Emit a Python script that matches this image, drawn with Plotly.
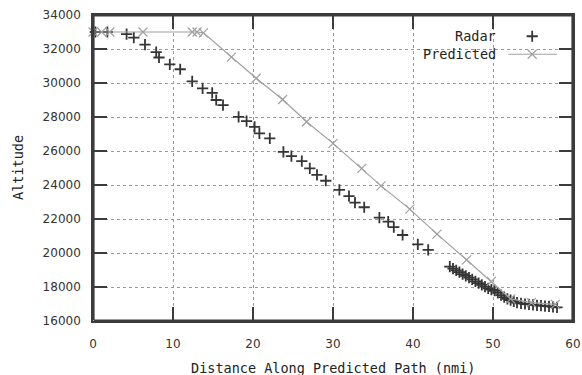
import plotly.graph_objects as go

# Radar track: distance along predicted path (nmi) vs altitude (ft)
radar_dist = [0.3, 1.8, 4.2, 5.1, 6.5, 7.9, 8.25, 9.6, 10.9, 12.4, 13.7, 14.9, 15.4, 16.25,
              18.2, 19.2, 20.2, 20.8, 22.1, 23.8, 24.8, 26.1, 27.1, 28.0, 29.1, 30.8,
              32.0, 32.75, 33.9, 35.8, 36.9, 37.6, 38.7, 40.6, 41.9,
              44.6, 45.0, 45.4, 45.8, 46.2, 46.6, 47.0, 47.4, 47.8, 48.2, 48.6, 49.0,
              49.4, 49.8, 50.2, 50.6, 51.0, 51.4, 51.8, 52.2, 52.6, 53.0, 53.5, 54.0,
              54.5, 55.0, 55.5, 56.0, 56.5, 57.0, 57.5, 58.0]
radar_alt = [33000, 33000, 32870, 32670, 32260, 31820, 31500, 31100, 30810, 30100, 29680,
             29420, 29000, 28700, 28010, 27760, 27420, 27040, 26740, 25950, 25700, 25410,
             24980, 24590, 24250, 23710, 23350, 22960, 22690, 22080, 21850, 21520, 21060,
             20510, 20180,
             19200, 19080, 18980, 18870, 18760, 18660, 18550, 18450, 18330, 18230, 18130,
             18020, 17920, 17850, 17780, 17650, 17520, 17400, 17300, 17230, 17150, 17080,
             17040, 17000, 16980, 16950, 16920, 16900, 16880, 16860, 16830, 16800]

# Predicted path
pred_dist = [0.0, 1.1, 2.1, 6.25, 12.4, 13.0, 13.8, 17.3, 20.4, 23.7, 26.7, 30.0, 33.6,
             36.0, 39.6, 43.0, 46.7, 49.8, 52.2, 54.8, 57.8]
pred_alt = [33000, 33000, 33000, 33000, 33000, 33000, 32950, 31520, 30280, 29030, 27720,
            26450, 24980, 23950, 22580, 21110, 19600, 18330, 17300, 17080, 16980]

x_ticks = [0, 10, 20, 30, 40, 50, 60]
y_ticks = [16000, 18000, 20000, 22000, 24000, 26000, 28000, 30000, 32000, 34000]

X_RANGE = [0, 60]
Y_RANGE = [16000, 34000]

RADAR_COLOR = "#353535"
PRED_COLOR = "#a0a0a0"
AXIS_COLOR = "#3c3c3c"
TEXT_COLOR = "#222222"
MONO = "DejaVu Sans Mono"

PLOT_W, PLOT_H = 480, 306
TICK_PX = 14
BORDER_W = 1.6

radar_marker = dict(symbol="cross-thin", size=8, color=RADAR_COLOR,
                    line=dict(width=1.8, color=RADAR_COLOR))
pred_marker = dict(symbol="x-thin", size=9, color=PRED_COLOR,
                   line=dict(width=1.2, color=PRED_COLOR))

x0, x1 = X_RANGE
y0, y1 = Y_RANGE
ux = (x1 - x0) / PLOT_W   # data units per pixel, x
uy = (y1 - y0) / PLOT_H   # data units per pixel, y

fig = go.Figure()

# Inward tick marks on all four sides, one short segment per trace
tick_style = dict(mode="lines", line=dict(color=AXIS_COLOR, width=2),
                  showlegend=False, hoverinfo="skip")
tick_dy = TICK_PX * uy
tick_dx = TICK_PX * ux
for v in x_ticks[1:-1]:
    fig.add_trace(go.Scatter(x=[v, v], y=[y0, y0 + tick_dy], **tick_style))
    fig.add_trace(go.Scatter(x=[v, v], y=[y1 - tick_dy, y1], **tick_style))
for v in y_ticks[1:-1]:
    fig.add_trace(go.Scatter(x=[x0, x0 + tick_dx], y=[v, v], **tick_style))
    fig.add_trace(go.Scatter(x=[x1 - tick_dx, x1], y=[v, v], **tick_style))

fig.add_trace(go.Scatter(
    x=radar_dist, y=radar_alt, mode="markers", name="Radar",
    marker=radar_marker, cliponaxis=False, showlegend=False,
))
fig.add_trace(go.Scatter(
    x=pred_dist, y=pred_alt, mode="lines+markers", name="Predicted",
    line=dict(color=PRED_COLOR, width=1.2), marker=pred_marker,
    cliponaxis=False, showlegend=False,
))

# Key in the top-right corner: label first, sample to its right
key_x_mark = 54.9
key_x_line = [51.9, 58.0]
key_y = [32750, 31690]
fig.add_trace(go.Scatter(
    x=[key_x_mark], y=[key_y[0]], mode="markers", marker=radar_marker,
    showlegend=False, hoverinfo="skip",
))
fig.add_trace(go.Scatter(
    x=key_x_line, y=[key_y[1], key_y[1]], mode="lines",
    line=dict(color=PRED_COLOR, width=1.2), showlegend=False, hoverinfo="skip",
))
fig.add_trace(go.Scatter(
    x=[key_x_mark], y=[key_y[1]], mode="markers", marker=pred_marker,
    showlegend=False, hoverinfo="skip",
))

# Plot border, inset by half its width so no side gets clipped
bx = BORDER_W / 2 * ux
by = BORDER_W / 2 * uy
fig.add_trace(go.Scatter(
    x=[x0 + bx, x1 - bx, x1 - bx, x0 + bx, x0 + bx],
    y=[y0 + by, y0 + by, y1 - by, y1 - by, y0 + by],
    mode="lines", line=dict(color=AXIS_COLOR, width=BORDER_W),
    showlegend=False, hoverinfo="skip",
))

axis_common = dict(
    showline=True, linecolor=AXIS_COLOR, linewidth=BORDER_W, mirror=True,
    ticks="outside", tickcolor="rgba(255,255,255,0)", tickwidth=1,
    showgrid=True, gridcolor="#9a9a9a", griddash="dot", gridwidth=1,
    zeroline=False, automargin=False,
    tickfont=dict(family="DejaVu Sans", size=12, color="#333333"),
)

mono_font = dict(family=MONO, size=13.5, color=TEXT_COLOR)

fig.update_layout(
    width=582, height=375,
    margin=dict(l=93, r=9, t=15, b=54),
    paper_bgcolor="white", plot_bgcolor="white",
    xaxis=dict(range=X_RANGE, tickvals=x_ticks, ticktext=[str(v) for v in x_ticks],
               ticklen=11, **axis_common),
    yaxis=dict(range=Y_RANGE, tickvals=y_ticks, ticktext=[str(v) for v in y_ticks],
               ticklen=8, **axis_common),
    annotations=[
        dict(x=0.5, y=0, xref="paper", yref="paper", yshift=-47,
             text="Distance Along Predicted Path (nmi)", showarrow=False,
             xanchor="center", yanchor="middle", font=mono_font),
        dict(x=0, y=0.5, xref="paper", yref="paper", xshift=-75,
             text="Altitude", textangle=-90, showarrow=False,
             xanchor="center", yanchor="middle", font=mono_font),
        dict(x=0.844, y=0.931, xref="paper", yref="paper", text="Radar",
             showarrow=False, xanchor="right", yanchor="middle", font=mono_font),
        dict(x=0.844, y=0.873, xref="paper", yref="paper", text="Predicted",
             showarrow=False, xanchor="right", yanchor="middle", font=mono_font),
    ],
)

fig.write_html("out.html")
